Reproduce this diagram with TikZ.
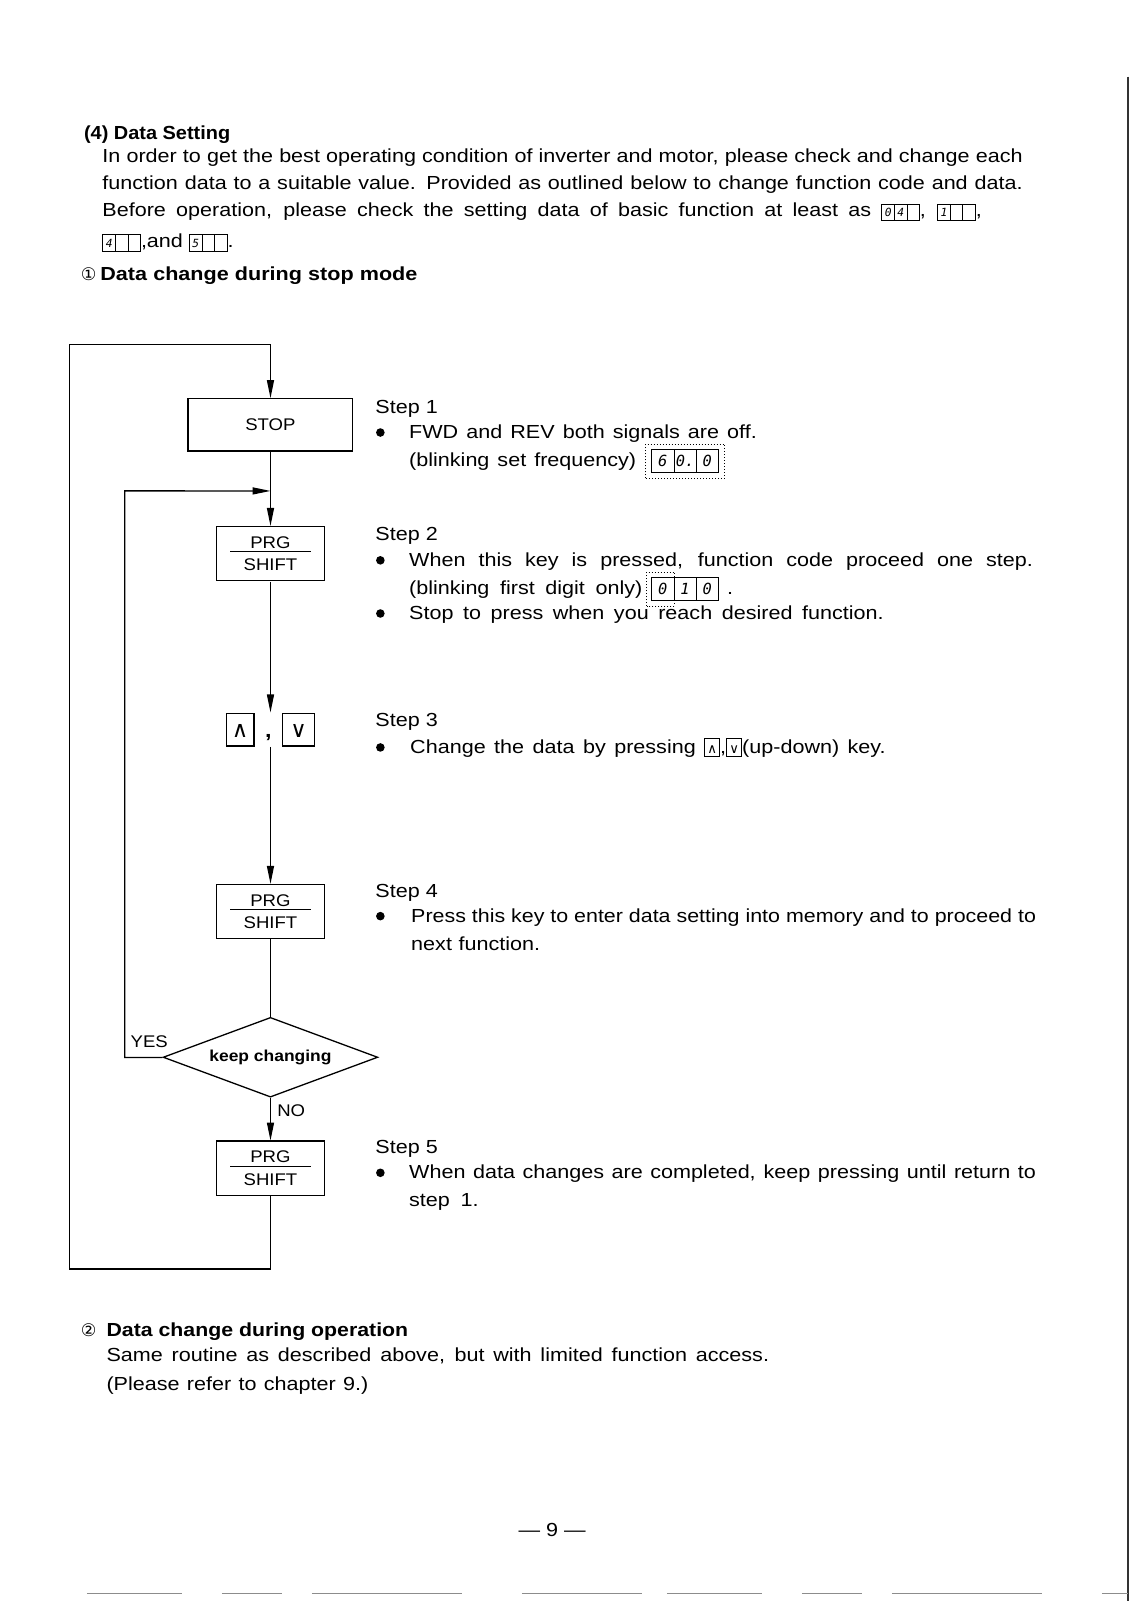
\documentclass[tikz,border=0pt]{standalone}
\usepackage{fontspec}
\usepackage{graphicx}
\setmainfont{Liberation Sans}[FakeStretch=1.14]
\newfontfamily\dejavu{DejaVu Sans}
\newfontfamily\segfont{DejaVu Sans Mono}
\newfontfamily\chartf{Liberation Sans}[FakeStretch=1.1]
\usetikzlibrary{arrows.meta,shapes.geometric,calc}

\newlength\fitlen
\newcommand\fitline[2]{\settowidth\fitlen{#2}\ifdim\fitlen<#1\relax\makebox[#1][s]{#2}\else\resizebox{#1}{\height}{#2}\fi}
\newcommand\dcell[2]{\makebox[#1]{\segfont\itshape #2}}
\newcommand\smalldisp[3]{{\fontsize{11}{11}\selectfont\setlength\fboxsep{0pt}\setlength\fboxrule{0.9pt}\fbox{\rule[-3pt]{0pt}{15pt}\dcell{11.5pt}{#1}\vrule width 0.7pt\dcell{11.5pt}{#2}\vrule width 0.7pt\dcell{11.5pt}{#3}}}}
\newcommand\bigdisp[3]{{\fontsize{15}{15}\selectfont\setlength\fboxsep{0pt}\setlength\fboxrule{1pt}\fbox{\rule[-5pt]{0pt}{21pt}\dcell{21pt}{#1}\vrule width 0.8pt\dcell{21pt}{#2}\vrule width 0.8pt\dcell{21pt}{#3}}}}
\newcommand\ikey[1]{{\setlength\fboxsep{0pt}\setlength\fboxrule{0.8pt}\fbox{\makebox[14pt]{\rule[-2pt]{0pt}{16pt}\dejavu\fontsize{13}{13}\selectfont #1}}}}
\newcommand\fkey[2]{{\setlength\fboxsep{0pt}\setlength\fboxrule{1.1pt}\fbox{\makebox[#1]{\rule[-8pt]{0pt}{31pt}\dejavu\fontsize{22}{22}\selectfont #2}}}}
\newcommand\prgshift{\vbox{\hbox to 79pt{\hss PRG\hss}\kern3pt\hrule height 1pt\kern6pt\hbox to 79pt{\hss\vrule height 12pt width 0pt SHIFT\hss}}}

\tikzset{
  every node/.style={inner sep=0pt},
  txt/.style={anchor=base west, font=\fontsize{18.5}{22}\selectfont},
  btxt/.style={anchor=base west, font=\bfseries\fontsize{18.5}{22}\selectfont},
  circnum/.style={anchor=base west, font=\dejavu\fontsize{17}{17}\selectfont},
  chartfont/.style={font=\chartf\fontsize{16.5}{19}\selectfont},
  ln/.style={line width=1.3pt},
  arr/.style={-{Triangle[length=18pt,width=7pt]}},
  stopbox/.style={draw, line width=1.3pt, minimum width=161pt, minimum height=51pt, chartfont},
  prgbox/.style={draw, line width=1.3pt, minimum width=106pt, minimum height=53pt, chartfont},
  decision/.style={draw, diamond, aspect=2.7, line width=1.3pt, minimum width=210pt, minimum height=78pt, font=\chartf\bfseries\fontsize{15.5}{18}\selectfont},
  blink/.style={line width=0.9pt, dash pattern=on 1pt off 2pt},
  edge/.style={line width=2.3pt, black!80},
  bottomedge/.style={line width=1pt, black!45, dash pattern=on 95pt off 40pt on 60pt off 30pt on 150pt off 60pt on 120pt off 25pt},
}

\begin{document}
\begin{tikzpicture}[x=1pt,y=-1pt,scale=1.0225,transform shape]
\fill[white] (0,0) rectangle (1106.1,1565.8);
\useasboundingbox (0,0) rectangle (1106.1,1565.8);

% ---------- header text ----------
\node[btxt] (h4) at (82,136) {\fitline{143pt}{(4) Data Setting}};
\node[txt] (l1) at (100,159) {\fitline{900pt}{In order to get the best operating condition of inverter and motor, please check and change each}};
\node[txt] (l2) at (100,185) {\fitline{900pt}{function data to a suitable value. Provided as outlined below to change function code and data.}};
\node[txt] (l3) at (100,212) {\fitline{860pt}{Before operation, please check the setting data of basic function at least as \smalldisp{0}{4}{}, \smalldisp{1}{}{},}};
\node[txt] (l4) at (100,242) {\smalldisp{4}{}{},and \smalldisp{5}{}{}.};
\node[circnum] (c1) at (79,274) {①};
\node[btxt] (t1) at (98,274) {\fitline{310pt}{Data change during stop mode}};

% ---------- step texts ----------
\node[txt] (st1) at (367,404) {\fitline{61pt}{Step 1}};
\node[txt] (s1a) at (400,429) {\fitline{340pt}{FWD and REV both signals are off.}};
\node[txt] (s1b) at (400,456) {\fitline{222pt}{(blinking set frequency)}};
\node (d1) at (670,451) {\bigdisp{6}{0.}{0}};
\draw[blink] ([shift={(-5pt,-5pt)}]d1.south west) rectangle ([shift={(5pt,5pt)}]d1.north east);

\node[txt] (st2) at (367,529) {\fitline{61pt}{Step 2}};
\node[txt] (s2a) at (400,554) {\fitline{610pt}{When this key is pressed, function code proceed one step.}};
\node[txt] (s2b) at (400,581) {\fitline{228pt}{(blinking first digit only)}};
\node (d2) at (670,576) {\bigdisp{0}{1}{0}};
\draw[blink] ([shift={(-4pt,-5pt)}]d2.south west) rectangle ([shift={(23pt,5pt)}]d2.north west);
\node[txt] (s2dot) at (711,581) {.};
\node[txt] (s2c) at (400,606) {\fitline{464pt}{Stop to press when you reach desired function.}};

\node[txt] (st3) at (367,711) {\fitline{61pt}{Step 3}};
\node[txt] (s3a) at (401,737) {\fitline{465pt}{Change the data by pressing \ikey{∧},\ikey{∨}(up-down) key.}};

\node[txt] (st4) at (367,878) {\fitline{61pt}{Step 4}};
\node[txt] (s4a) at (402,902) {\fitline{611pt}{Press this key to enter data setting into memory and to proceed to}};
\node[txt] (s4b) at (402,930) {\fitline{126pt}{next function.}};

\node[txt] (st5) at (367,1128) {\fitline{61pt}{Step 5}};
\node[txt] (s5a) at (400,1153) {\fitline{613pt}{When data changes are completed, keep pressing until return to}};
\node[txt] (s5b) at (400,1180) {\fitline{68pt}{step 1.}};

\foreach \yy in {423,548,600,731,896,1147} \fill (372,\yy) circle (4.2pt);

% ---------- footer text ----------
\node[circnum] (c2) at (79,1307) {②};
\node[btxt] (t2) at (104,1307) {\fitline{295pt}{Data change during operation}};
\node[txt] (o1) at (104,1332) {\fitline{648pt}{Same routine as described above, but with limited function access.}};
\node[txt] (o2) at (104,1360) {\fitline{256pt}{(Please refer to chapter 9.)}};
\node[txt, anchor=base] (pg) at (540,1503) {— 9 —};

% ---------- flowchart ----------
\node[stopbox] (stop) at (264.5,415.5) {STOP};
\node[prgbox] (p1) at (264.5,541.5) {\prgshift};
\node (keys) at (264.5,713.5) {\fkey{26pt}{∧}\makebox[27pt]{\fontsize{20}{20}\selectfont\bfseries ,}\fkey{30pt}{∨}};
\node[prgbox] (p2) at (264.5,891.5) {\prgshift};
\node[decision] (dia) at (264.5,1034) {keep changing};
\node[prgbox] (p3) at (264.5,1142.5) {\prgshift};
\node[chartfont] (yes) at (146,1019) {YES};
\node[chartfont, anchor=west] (no) at (271,1086) {NO};

\coordinate (jy) at (0,480);
\coordinate (junc) at (p1.north |- jy);
\coordinate (itl) at (122,480);
\coordinate (obl) at (68,1241);
\coordinate (otl) at (68,337);

\draw[ln, arr] (p3.south) |- (obl) -- (otl) -| (stop.north);
\draw[ln, arr] (stop.south) -- (p1.north);
\draw[ln, arr] (dia.west) -| (itl) -- (junc);
\draw[ln, arr] (p1.south) -- (keys.north);
\draw[ln, arr] (keys.south) -- (p2.north);
\draw[ln] (p2.south) -- (dia.north);
\draw[ln, arr] (dia.south) -- (p3.north);

% ---------- page edges ----------
\draw[edge] (1103,75) -- (1103,1565.8);
\draw[bottomedge] (85,1558) -- (1103,1558);
\end{tikzpicture}
\end{document}
